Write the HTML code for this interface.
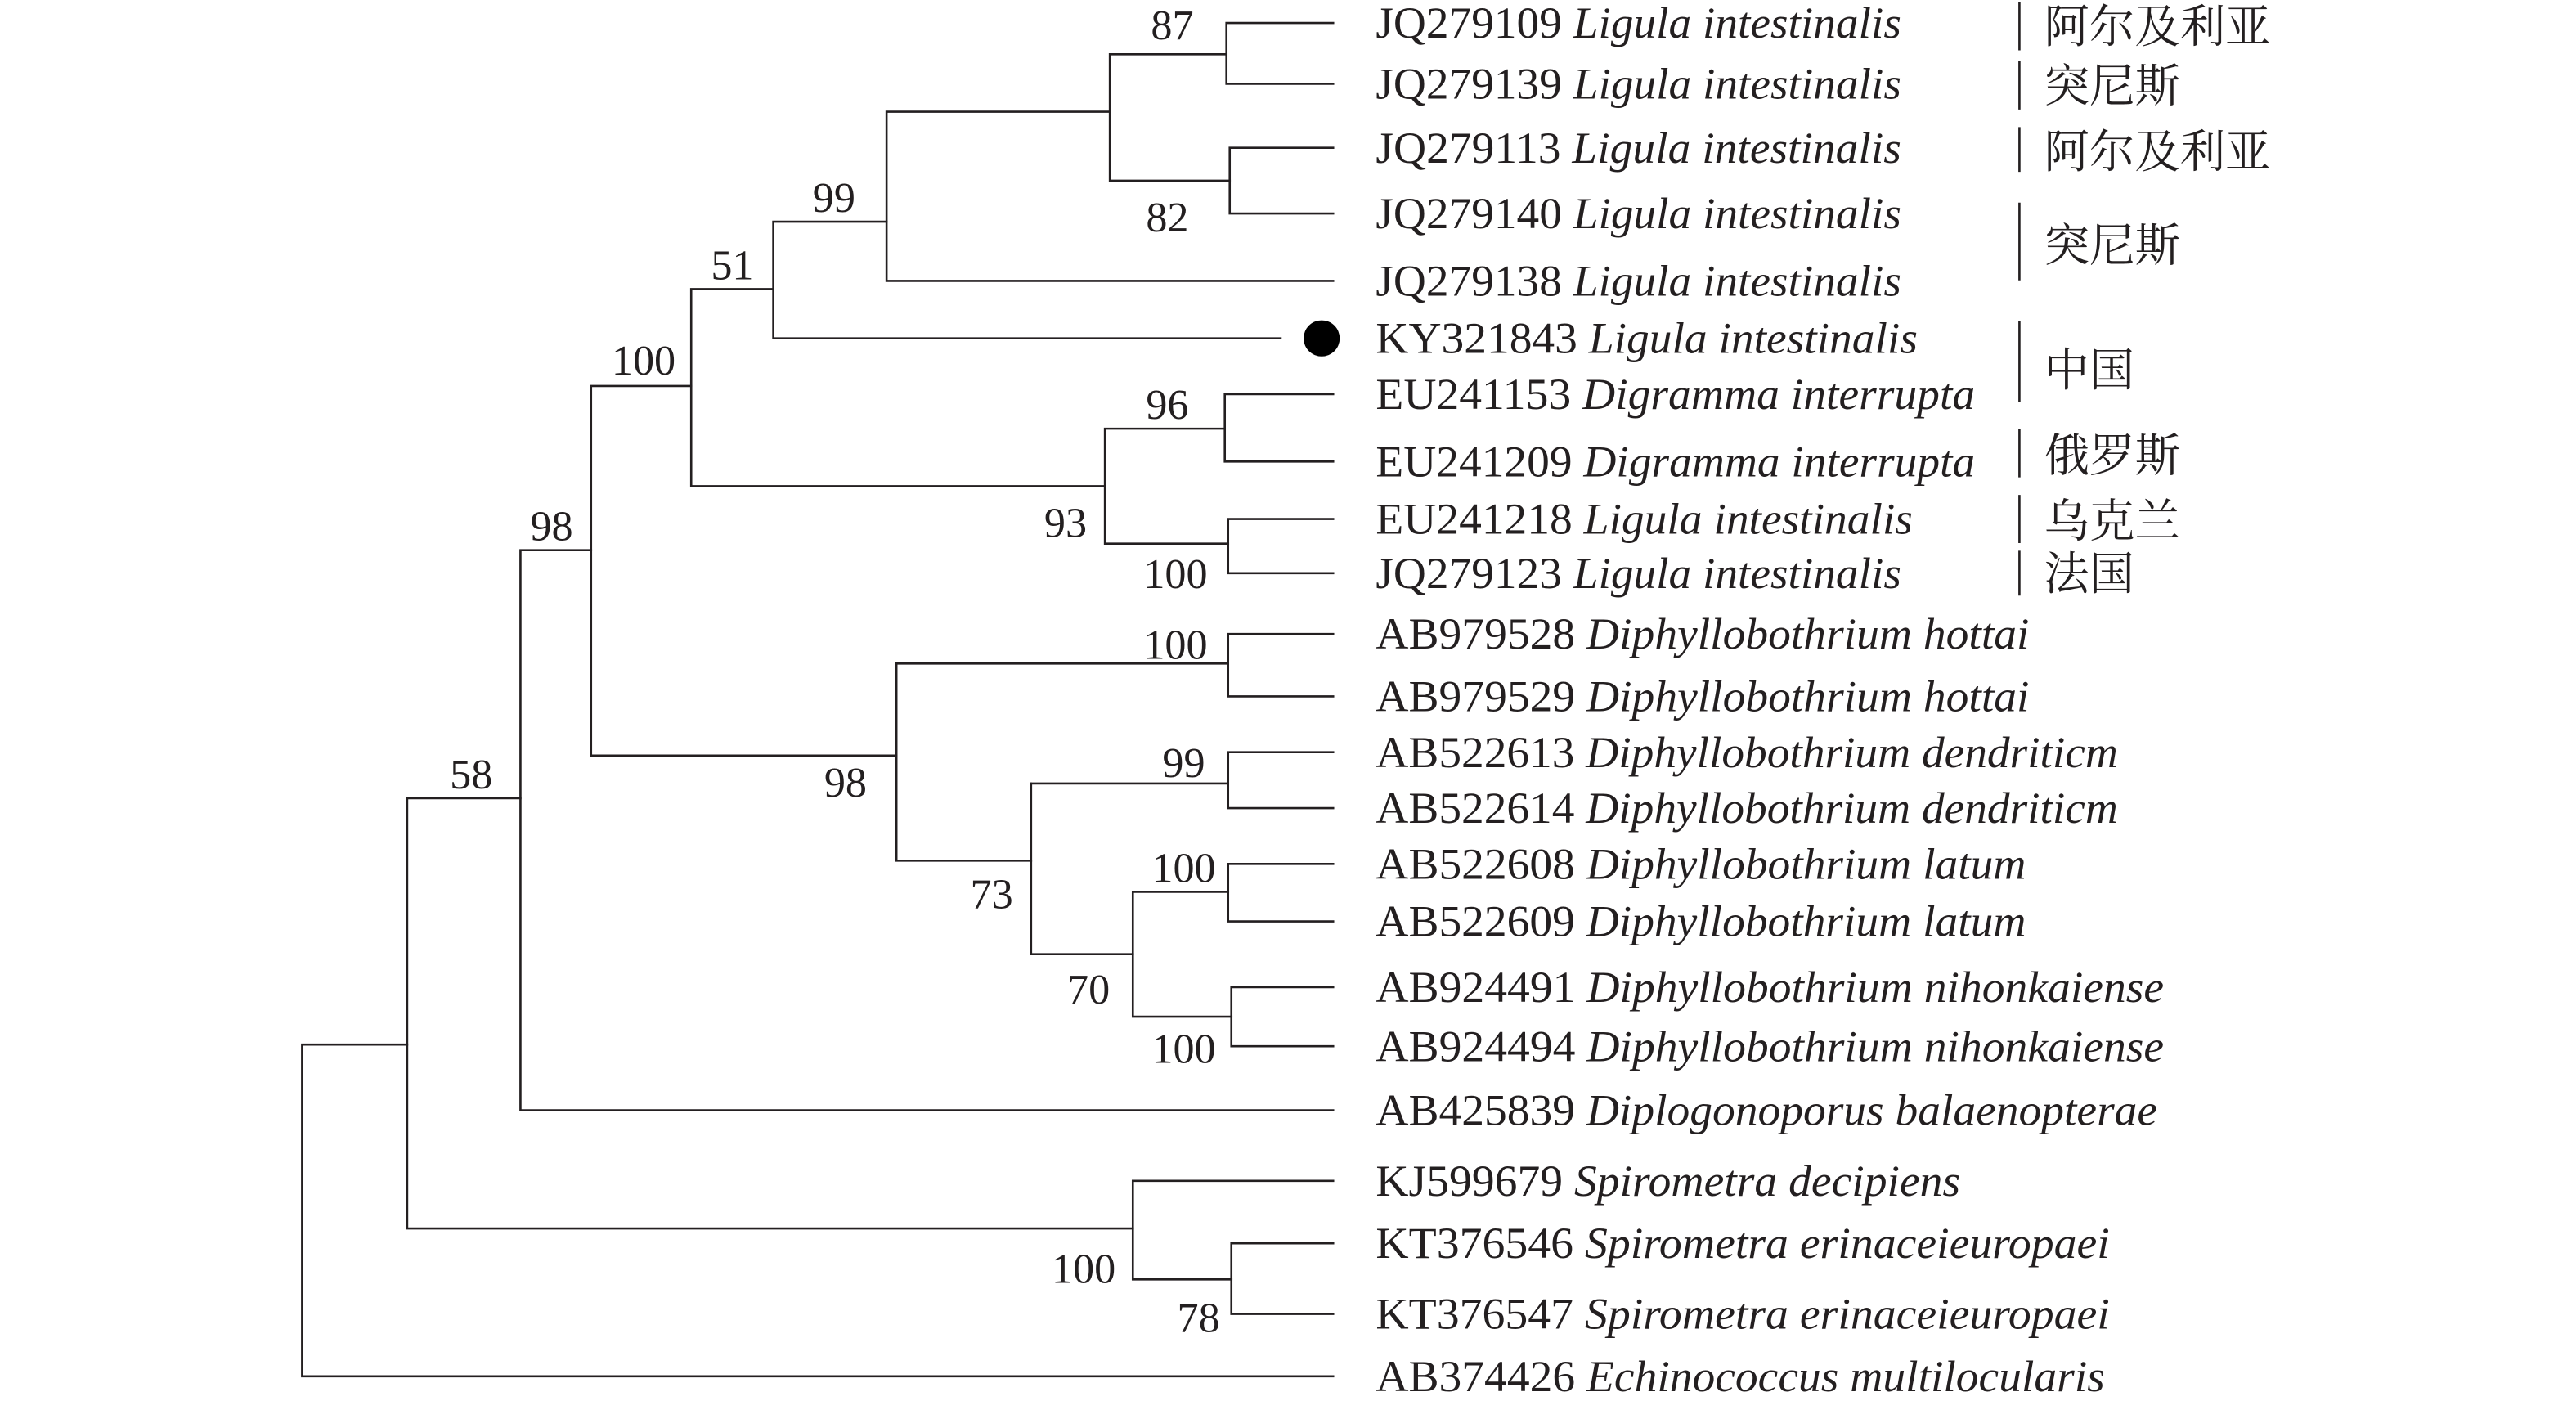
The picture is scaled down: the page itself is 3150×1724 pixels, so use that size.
<!DOCTYPE html>
<html><head><meta charset="utf-8"><style>html,body{margin:0;padding:0;background:#fff}svg{display:block}</style></head>
<body>
<svg width="3150" height="1724" viewBox="0 0 1569 858.5" preserveAspectRatio="none" xmlns="http://www.w3.org/2000/svg">
<g stroke="#231f20" stroke-width="1.3" fill="none" stroke-linecap="square">
<path d="M747 14V51M747 14H812M747 51H812"/>
<path d="M749 90V130M749 90H812M749 130H812"/>
<path d="M676 33V110M676 33H747M676 110H749"/>
<path d="M540 68V171M540 68H676M540 171H812"/>
<path d="M471 135V206M471 135H540M471 206H780"/>
<path d="M746 240V281M746 240H812M746 281H812"/>
<path d="M748 316V349M748 316H812M748 349H812"/>
<path d="M673 261V331M673 261H746M673 331H748"/>
<path d="M421 176V296M421 176H471M421 296H673"/>
<path d="M748 386V424M748 404H546M748 386H812M748 424H812"/>
<path d="M748 458V492M748 477H628M748 458H812M748 492H812"/>
<path d="M748 526V561M748 526H812M748 561H812"/>
<path d="M750 601V637M750 601H812M750 637H812"/>
<path d="M690 543V619M690 543H748M690 619H750"/>
<path d="M628 477V581M628 581H690"/>
<path d="M546 404V524M546 524H628"/>
<path d="M360 235V460M360 235H421M360 460H546"/>
<path d="M317 335V676M317 335H360M317 676H812"/>
<path d="M750 757V800M750 757H812M750 800H812"/>
<path d="M690 719V779M690 719H812M690 779H750"/>
<path d="M248 486V748M248 486H317M248 748H690"/>
<path d="M184 636V838M184 636H248M184 838H812"/>
<path d="M1230 2V30M1230 38V66M1230 78V104M1230 124V170M1230 196V244M1230 262V290M1230 302V330M1230 336V362"/>
</g>
<circle cx="805" cy="206" r="11" fill="#000"/>
<g font-family="'Liberation Serif', serif" font-size="26" fill="#231f20">
<text x="714" y="24" text-anchor="middle">87</text>
<text x="711" y="141" text-anchor="middle">82</text>
<text x="508" y="129" text-anchor="middle">99</text>
<text x="446" y="170" text-anchor="middle">51</text>
<text x="392" y="228" text-anchor="middle">100</text>
<text x="711" y="255" text-anchor="middle">96</text>
<text x="649" y="327" text-anchor="middle">93</text>
<text x="716" y="358" text-anchor="middle">100</text>
<text x="336" y="329" text-anchor="middle">98</text>
<text x="716" y="401" text-anchor="middle">100</text>
<text x="515" y="485" text-anchor="middle">98</text>
<text x="721" y="473" text-anchor="middle">99</text>
<text x="721" y="537" text-anchor="middle">100</text>
<text x="604" y="553" text-anchor="middle">73</text>
<text x="663" y="611" text-anchor="middle">70</text>
<text x="721" y="647" text-anchor="middle">100</text>
<text x="287" y="480" text-anchor="middle">58</text>
<text x="660" y="781" text-anchor="middle">100</text>
<text x="730" y="811" text-anchor="middle">78</text>
</g>
<g font-family="'Liberation Serif', serif" font-size="27" fill="#231f20">
<text x="838" y="23" textLength="320" lengthAdjust="spacingAndGlyphs">JQ279109 <tspan font-style="italic">Ligula intestinalis</tspan></text>
<text x="838" y="60" textLength="320" lengthAdjust="spacingAndGlyphs">JQ279139 <tspan font-style="italic">Ligula intestinalis</tspan></text>
<text x="838" y="99" textLength="320" lengthAdjust="spacingAndGlyphs">JQ279113 <tspan font-style="italic">Ligula intestinalis</tspan></text>
<text x="838" y="139" textLength="320" lengthAdjust="spacingAndGlyphs">JQ279140 <tspan font-style="italic">Ligula intestinalis</tspan></text>
<text x="838" y="180" textLength="320" lengthAdjust="spacingAndGlyphs">JQ279138 <tspan font-style="italic">Ligula intestinalis</tspan></text>
<text x="838" y="215" textLength="330" lengthAdjust="spacingAndGlyphs">KY321843 <tspan font-style="italic">Ligula intestinalis</tspan></text>
<text x="838" y="249" textLength="365" lengthAdjust="spacingAndGlyphs">EU241153 <tspan font-style="italic">Digramma interrupta</tspan></text>
<text x="838" y="290" textLength="365" lengthAdjust="spacingAndGlyphs">EU241209 <tspan font-style="italic">Digramma interrupta</tspan></text>
<text x="838" y="325" textLength="327" lengthAdjust="spacingAndGlyphs">EU241218 <tspan font-style="italic">Ligula intestinalis</tspan></text>
<text x="838" y="358" textLength="320" lengthAdjust="spacingAndGlyphs">JQ279123 <tspan font-style="italic">Ligula intestinalis</tspan></text>
<text x="838" y="395" textLength="398" lengthAdjust="spacingAndGlyphs">AB979528 <tspan font-style="italic">Diphyllobothrium hottai</tspan></text>
<text x="838" y="433" textLength="398" lengthAdjust="spacingAndGlyphs">AB979529 <tspan font-style="italic">Diphyllobothrium hottai</tspan></text>
<text x="838" y="467" textLength="452" lengthAdjust="spacingAndGlyphs">AB522613 <tspan font-style="italic">Diphyllobothrium dendriticm</tspan></text>
<text x="838" y="501" textLength="452" lengthAdjust="spacingAndGlyphs">AB522614 <tspan font-style="italic">Diphyllobothrium dendriticm</tspan></text>
<text x="838" y="535" textLength="396" lengthAdjust="spacingAndGlyphs">AB522608 <tspan font-style="italic">Diphyllobothrium latum</tspan></text>
<text x="838" y="570" textLength="396" lengthAdjust="spacingAndGlyphs">AB522609 <tspan font-style="italic">Diphyllobothrium latum</tspan></text>
<text x="838" y="610" textLength="480" lengthAdjust="spacingAndGlyphs">AB924491 <tspan font-style="italic">Diphyllobothrium nihonkaiense</tspan></text>
<text x="838" y="646" textLength="480" lengthAdjust="spacingAndGlyphs">AB924494 <tspan font-style="italic">Diphyllobothrium nihonkaiense</tspan></text>
<text x="838" y="685" textLength="476" lengthAdjust="spacingAndGlyphs">AB425839 <tspan font-style="italic">Diplogonoporus balaenopterae</tspan></text>
<text x="838" y="728" textLength="356" lengthAdjust="spacingAndGlyphs">KJ599679 <tspan font-style="italic">Spirometra decipiens</tspan></text>
<text x="838" y="766" textLength="447" lengthAdjust="spacingAndGlyphs">KT376546 <tspan font-style="italic">Spirometra erinaceieuropaei</tspan></text>
<text x="838" y="809" textLength="447" lengthAdjust="spacingAndGlyphs">KT376547 <tspan font-style="italic">Spirometra erinaceieuropaei</tspan></text>
<text x="838" y="847" textLength="444" lengthAdjust="spacingAndGlyphs">AB374426 <tspan font-style="italic">Echinococcus multilocularis</tspan></text>
</g>
<g font-family="'Liberation Serif', 'Noto Serif CJK SC', serif" font-size="28" fill="#231f20">
<text x="1245" y="26" textLength="138" lengthAdjust="spacingAndGlyphs">阿尔及利亚</text>
<text x="1245" y="62" textLength="83" lengthAdjust="spacingAndGlyphs">突尼斯</text>
<text x="1245" y="102" textLength="138" lengthAdjust="spacingAndGlyphs">阿尔及利亚</text>
<text x="1245" y="159" textLength="83" lengthAdjust="spacingAndGlyphs">突尼斯</text>
<text x="1245" y="235" textLength="55" lengthAdjust="spacingAndGlyphs">中国</text>
<text x="1245" y="287" textLength="83" lengthAdjust="spacingAndGlyphs">俄罗斯</text>
<text x="1245" y="327" textLength="83" lengthAdjust="spacingAndGlyphs">乌克兰</text>
<text x="1245" y="359" textLength="55" lengthAdjust="spacingAndGlyphs">法国</text>
</g>
</svg>
</body></html>
